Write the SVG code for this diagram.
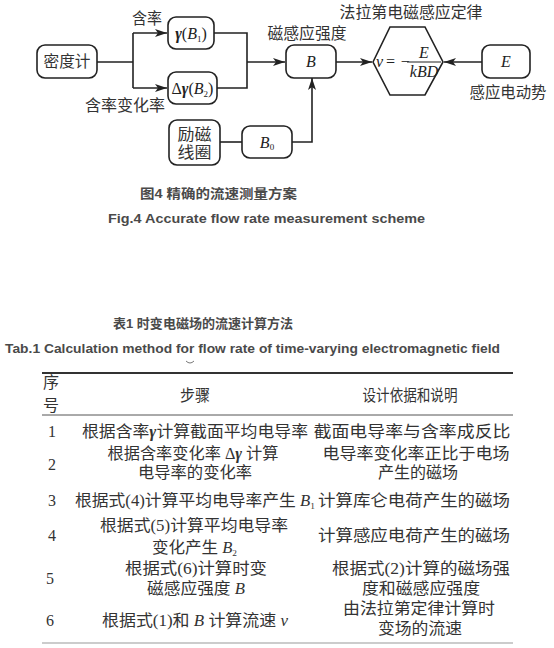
<svg xmlns="http://www.w3.org/2000/svg" width="554" height="648" viewBox="0 0 554 648">
<style>
.bx{fill:#fff;stroke:#222;stroke-width:1.6}
.ln{fill:none;stroke:#222;stroke-width:1.6}
.t{font-family:"Liberation Serif","Noto Sans CJK SC",serif;font-size:16px;fill:#333}
.m{font-family:"Liberation Serif",serif;font-size:16px;fill:#222;font-style:italic}
.cap{font-family:"Liberation Sans","Noto Sans CJK SC",sans-serif;font-size:13px;font-weight:bold;fill:#4a4a4a}
.c{text-anchor:middle}
.tb{font-family:"Liberation Serif","Noto Sans CJK SC",serif;font-size:16px;fill:#333;text-anchor:middle}
</style>
<defs>
<marker id="ar" viewBox="0 0 12 8" markerWidth="12" markerHeight="8" refX="12" refY="4" orient="auto" markerUnits="userSpaceOnUse">
<path d="M0,0 L12,4 L0,8 L3,4 z" fill="#222"/>
</marker>
</defs>
<rect width="554" height="648" fill="#fff"/>

<g id="connectors">
<path class="ln" d="M97,62 H133 M133,33 V88"/>
<path class="ln" d="M133,33 H167" marker-end="url(#ar)"/>
<path class="ln" d="M133,88 H167" marker-end="url(#ar)"/>
<path class="ln" d="M214,33 H247 V88 H217"/>
<path class="ln" d="M247,62 H285" marker-end="url(#ar)"/>
<path class="ln" d="M220,142 H242"/>
<path class="ln" d="M292,142 H312 V78" marker-end="url(#ar)"/>
<path class="ln" d="M336,62 H372" marker-end="url(#ar)"/>
<path class="ln" d="M482,62 H444" marker-end="url(#ar)"/>
</g>

<g id="label-hanlv"><text class="t c" x="147" y="24" textLength="30" lengthAdjust="spacingAndGlyphs">含率</text></g>
<g id="label-hanlvbianhualv"><text class="t c" x="125" y="111" textLength="80" lengthAdjust="spacingAndGlyphs">含率变化率</text></g>

<g id="node-midu">
<rect class="bx" x="37" y="45" width="60" height="33" rx="8"/>
<text class="t c" x="67" y="67" textLength="47" lengthAdjust="spacingAndGlyphs">密度计</text>
</g>

<g id="node-gamma">
<rect class="bx" x="168" y="17" width="46" height="32" rx="8"/>
<text class="m c" x="191" y="39"><tspan font-weight="bold">γ</tspan><tspan font-style="normal">(</tspan>B<tspan font-size="9" font-style="normal" dy="3">1</tspan><tspan font-style="normal" dy="-3">)</tspan></text>
</g>

<g id="node-dgamma">
<rect class="bx" x="168" y="72" width="49" height="32" rx="8"/>
<text class="m c" x="192.5" y="94"><tspan font-style="normal">Δ</tspan><tspan font-weight="bold">γ</tspan><tspan font-style="normal">(</tspan>B<tspan font-size="9" font-style="normal" dy="3">2</tspan><tspan font-style="normal" dy="-3">)</tspan></text>
</g>

<g id="node-lici">
<rect class="bx" x="169" y="120" width="51" height="45" rx="8"/>
<text class="t c" x="194.5" y="140" textLength="34" lengthAdjust="spacingAndGlyphs">励磁</text>
<text class="t c" x="194.5" y="158" textLength="34" lengthAdjust="spacingAndGlyphs">线圈</text>
</g>

<g id="node-b0">
<rect class="bx" x="242" y="126" width="50" height="32" rx="8"/>
<text class="m c" x="267" y="148">B<tspan font-size="9" font-style="normal" dy="2">0</tspan></text>
</g>

<g id="node-b">
<rect class="bx" x="286" y="45" width="50" height="33" rx="8"/>
<text class="m c" x="311" y="67">B</text>
<text class="t c" x="307" y="39" textLength="79" lengthAdjust="spacingAndGlyphs">磁感应强度</text>
</g>

<g id="node-faraday">
<polygon class="bx" points="373,62 390,27 425,27 443,62 425,95 390,95"/>
<text class="m" x="376" y="67" font-size="15">v</text>
<text class="m" x="385" y="67" font-size="15" font-style="normal">= −</text>
<line x1="407" y1="62" x2="441" y2="62" stroke="#222" stroke-width="1"/>
<text class="m c" x="424" y="58" font-size="15">E</text>
<text class="m c" x="424" y="77" font-size="15">kBD</text>
<text class="t c" x="411" y="18" textLength="143" lengthAdjust="spacingAndGlyphs">法拉第电磁感应定律</text>
</g>

<g id="node-e">
<rect class="bx" x="482" y="45" width="48" height="33" rx="8"/>
<text class="m c" x="506" y="67">E</text>
<text class="t c" x="508" y="98" textLength="77" lengthAdjust="spacingAndGlyphs">感应电动势</text>
</g>

<g id="captions">
<text class="cap" x="140" y="198" textLength="157" lengthAdjust="spacingAndGlyphs">图4 精确的流速测量方案</text>
<text class="cap" x="108" y="223" textLength="317" lengthAdjust="spacingAndGlyphs">Fig.4 Accurate flow rate measurement scheme</text>
<text class="cap" x="113" y="328" textLength="180" lengthAdjust="spacingAndGlyphs">表1 时变电磁场的流速计算方法</text>
<text class="cap" x="5" y="353" textLength="495" lengthAdjust="spacingAndGlyphs">Tab.1 Calculation method for flow rate of time-varying electromagnetic field</text>
</g>

<g id="table">
<path d="M186,361 q4,4 8,0" fill="none" stroke="#777" stroke-width="1"/>
<line x1="42" y1="373" x2="513" y2="373" stroke="#333" stroke-width="2.2"/>
<line x1="42" y1="415" x2="513" y2="415" stroke="#555" stroke-width="1"/>
<line x1="42" y1="643" x2="513" y2="643" stroke="#999" stroke-width="1"/>

<text class="tb" x="51" y="388" font-size="15">序</text>
<text class="tb" x="51" y="411" font-size="15">号</text>
<text class="tb" x="195" y="401" font-size="15" textLength="30" lengthAdjust="spacingAndGlyphs">步骤</text>
<text class="tb" x="410" y="401" font-size="15" textLength="95" lengthAdjust="spacingAndGlyphs">设计依据和说明</text>

<text class="tb" x="52" y="437">1</text>
<text class="tb" x="195" y="437" textLength="226" lengthAdjust="spacingAndGlyphs">根据含率<tspan font-style="italic" font-weight="bold">γ</tspan>计算截面平均电导率</text>
<text class="tb" x="412" y="437" textLength="197" lengthAdjust="spacingAndGlyphs">截面电导率与含率成反比</text>

<text class="tb" x="52" y="470">2</text>
<text class="tb" x="193" y="459" textLength="171" lengthAdjust="spacingAndGlyphs">根据含率变化率 Δ<tspan font-style="italic" font-weight="bold">γ</tspan> 计算</text>
<text class="tb" x="195" y="478" textLength="114" lengthAdjust="spacingAndGlyphs">电导率的变化率</text>
<text class="tb" x="416" y="459" textLength="187" lengthAdjust="spacingAndGlyphs">电导率变化率正比于电场</text>
<text class="tb" x="418" y="478" textLength="80" lengthAdjust="spacingAndGlyphs">产生的磁场</text>

<text class="tb" x="52" y="506">3</text>
<text class="tb" x="195" y="506" textLength="240" lengthAdjust="spacingAndGlyphs">根据式(4)计算平均电导率产生 <tspan font-style="italic">B</tspan><tspan font-size="9" dy="3">1</tspan></text>
<text class="tb" x="414" y="506" textLength="192" lengthAdjust="spacingAndGlyphs">计算库仑电荷产生的磁场</text>

<text class="tb" x="52" y="541">4</text>
<text class="tb" x="194" y="531" textLength="188" lengthAdjust="spacingAndGlyphs">根据式(5)计算平均电导率</text>
<text class="tb" x="194.5" y="553" textLength="85" lengthAdjust="spacingAndGlyphs">变化产生 <tspan font-style="italic">B</tspan><tspan font-size="9" dy="3">2</tspan></text>
<text class="tb" x="414" y="541" textLength="192" lengthAdjust="spacingAndGlyphs">计算感应电荷产生的磁场</text>

<text class="tb" x="50" y="584">5</text>
<text class="tb" x="196" y="574" textLength="142" lengthAdjust="spacingAndGlyphs">根据式(6)计算时变</text>
<text class="tb" x="196" y="594" textLength="98" lengthAdjust="spacingAndGlyphs">磁感应强度 <tspan font-style="italic">B</tspan></text>
<text class="tb" x="421" y="574" textLength="178" lengthAdjust="spacingAndGlyphs">根据式(2)计算的磁场强</text>
<text class="tb" x="421" y="594" textLength="118" lengthAdjust="spacingAndGlyphs">度和磁感应强度</text>

<text class="tb" x="50" y="626">6</text>
<text class="tb" x="195" y="626" textLength="186" lengthAdjust="spacingAndGlyphs">根据式(1)和 <tspan font-style="italic">B</tspan> 计算流速 <tspan font-style="italic">v</tspan></text>
<text class="tb" x="419" y="614" textLength="152" lengthAdjust="spacingAndGlyphs">由法拉第定律计算时</text>
<text class="tb" x="420" y="634" textLength="84" lengthAdjust="spacingAndGlyphs">变场的流速</text>
</g>
</svg>
